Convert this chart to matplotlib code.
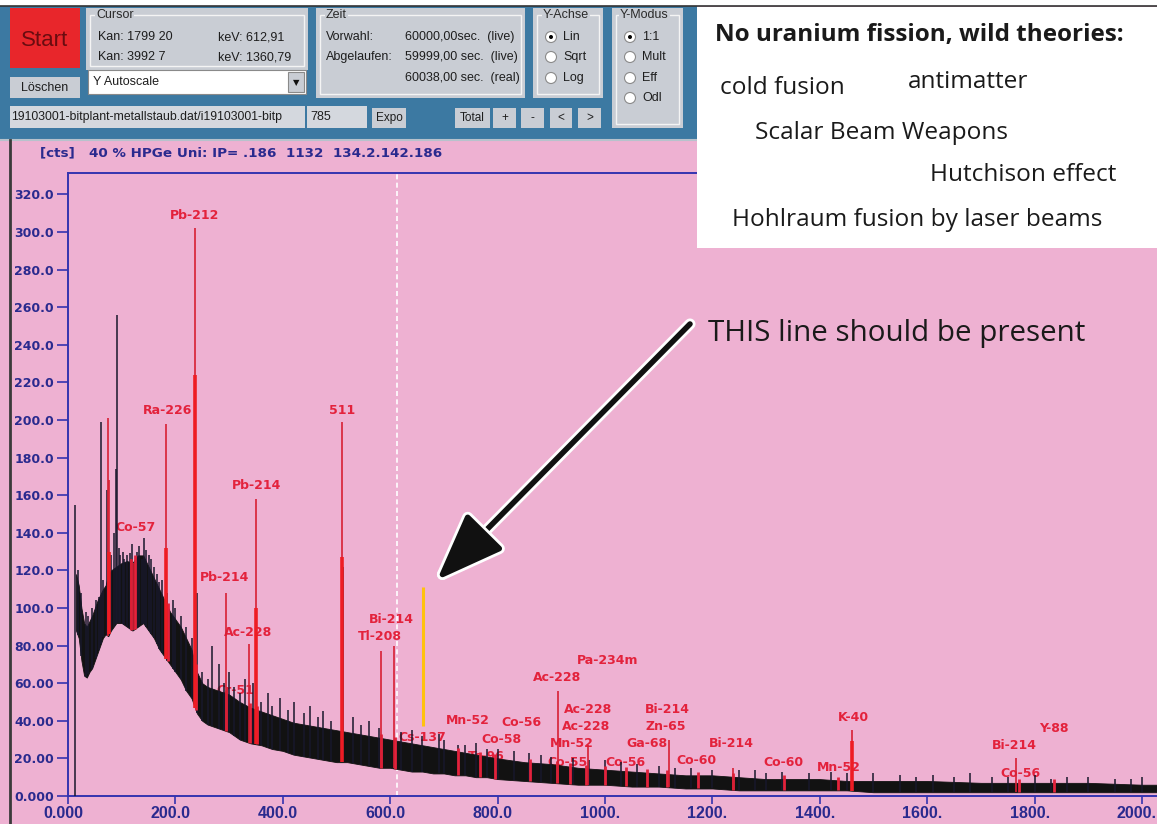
import numpy as np
import matplotlib.pyplot as plt
from matplotlib.patches import Rectangle, Circle
import matplotlib.patheffects as pe
from matplotlib.transforms import ScaledTranslation

# continuum band of the spectrum (keV, counts)
band_e = [15, 20, 25, 30, 35, 40, 45, 50, 55, 60,
          65, 70, 75, 80, 90, 100, 110, 120, 130, 140,
          150, 160, 170, 180, 190, 200, 210, 220, 230, 240,
          250, 260, 270, 280, 290, 300, 320, 340, 360, 380,
          400, 420, 440, 460, 480, 500, 520, 540, 560, 580,
          600, 620, 640, 660, 680, 700, 720, 740, 760, 780,
          800, 850, 900, 950, 1000, 1050, 1100, 1150, 1200, 1250,
          1300, 1350, 1400, 1450, 1500, 1600, 1700, 1800, 1900, 2000,
          2030]
band_lo = [88, 84, 72, 64, 63, 66, 68, 72, 76, 80,
           84, 86, 85, 88, 92, 92, 90, 88, 90, 92,
           88, 84, 78, 74, 70, 66, 62, 56, 52, 44,
           40, 38, 37, 36, 35, 34, 30, 28, 27, 25,
           24, 22, 21, 20, 19, 18, 18, 17, 16, 15,
           15, 14, 13, 13, 12, 12, 11, 11, 10, 10,
           9, 8, 7, 6, 6, 5, 5, 4, 4, 3,
           3, 3, 3, 3, 2, 2, 2, 2, 2, 2,
           2]
band_hi = [118, 112, 100, 92, 90, 93, 96, 100, 104, 107,
           110, 112, 118, 120, 122, 124, 125, 124, 128, 128,
           122, 116, 110, 104, 98, 94, 90, 84, 78, 66,
           60, 58, 57, 56, 55, 54, 50, 47, 45, 43,
           41, 39, 38, 37, 36, 35, 34, 33, 32, 31,
           30, 29, 28, 27, 26, 25, 24, 23, 22, 21,
           20, 18, 17, 15, 14, 13, 12, 11, 11, 10,
           9, 9, 9, 8, 8, 8, 7, 7, 7, 6,
           6]

# black noise spikes sticking out of the band (keV, top counts)
spike_e = [18, 24, 33, 38, 44, 52, 57, 61, 66, 72, 80, 85, 89, 91, 95, 97, 102, 105,
           110, 115, 120, 128, 133, 137, 141, 145, 150, 155, 160, 165, 170, 175, 185,
           196, 200, 210, 220, 230, 240, 250, 260, 269, 282, 290, 300, 310, 320, 330,
           345, 360, 372, 380, 395, 410, 420, 440, 450, 465, 475, 490, 513, 530, 545,
           560, 580, 620, 640, 660, 690, 700, 727, 740, 760, 780, 800, 830, 859, 880,
           900, 940, 970, 1000, 1030, 1060, 1100, 1130, 1160, 1200, 1250, 1280, 1300,
           1330, 1380, 1420, 1450, 1500, 1550, 1580, 1610, 1650, 1680, 1720, 1750,
           1800, 1830, 1860, 1900, 1950, 1980, 2000]
spike_top = [120, 108, 98, 96, 100, 104, 106, 199, 115, 163, 128, 140, 174, 256, 132, 128,
             130, 126, 128, 129, 134, 130, 133, 126, 137, 131, 128, 126, 122, 118, 114,
             115, 108, 104, 100, 96, 90, 84, 108, 66, 62, 80, 70, 60, 66, 58, 55, 62,
             60, 50, 55, 48, 52, 46, 50, 44, 48, 42, 45, 40, 122, 42, 38,
             40, 36, 34, 35, 32, 33, 30, 27, 27, 28, 25, 25, 24, 23, 22,
             21, 20, 19, 19, 18, 17, 16, 15, 15, 14, 14, 14, 12,
             13, 12, 13, 12, 12, 11, 10, 11, 10, 12, 10, 10,
             11, 9, 10, 10, 9, 9, 10]

# identified peaks drawn in red (keV, top counts, thick part)
peak_e = [75, 77, 118, 122, 182.5, 236.5, 294, 337, 350, 510, 582, 607,
          912, 968, 1119, 1238, 1460, 1765]
peak_top = [201, 168, 126, 124, 198, 302, 108, 81, 158, 199, 77, 80,
            56, 27, 30, 15, 35, 20]
peak_core = [0, 130, 0, 0, 132, 224, 0, 0, 100, 127, 0, 0,
             0, 0, 0, 0, 29, 0]

# small red regions inside the band
roi_e = [118, 125, 186, 238, 295, 338, 352, 583, 609, 727, 768, 795, 860,
         911, 935, 965, 1000, 1039, 1078, 1115, 1173, 1238, 1333, 1434, 1771, 1836]

label_text = ['Pb-212', 'Ra-226', '511', 'Pb-214', 'Co-57', 'Pb-214', 'Ac-228', 'Cr-51',
              'Bi-214', 'Tl-208', 'Cs-137', 'Mn-52', 'Co-56', 'Co-58', 'Tc-96',
              'Ac-228', 'Pa-234m', 'Ac-228', 'Ac-228', 'Mn-52', 'Co-55',
              'Bi-214', 'Zn-65', 'Ga-68', 'Co-56', 'Co-60', 'Bi-214', 'Co-60',
              'K-40', 'Mn-52', 'Bi-214', 'Y-88', 'Co-56']
label_e = [236, 186, 510, 352, 125, 292, 335, 311,
           603, 581, 659, 745, 845, 808, 778,
           911, 1004, 968, 965, 939, 931,
           1117, 1114, 1078, 1039, 1171, 1235, 1333,
           1462, 1436, 1762, 1836, 1773]
label_y = [309, 205, 205, 165, 143, 116, 87, 56,
           94, 85, 31, 40, 39, 30, 21,
           63, 72, 46, 37, 28, 18,
           46, 37, 28, 18, 19, 28, 18,
           42, 15, 27, 36, 12]

x_ticks = [0, 200, 400, 600, 800, 1000, 1200, 1400, 1600, 1800, 2000]
x_tick_labels = ['0.000', '200.0', '400.0', '600.0', '800.0', '1000.', '1200.',
                 '1400.', '1600.', '1800.', '2000.']
y_ticks = [0, 20, 40, 60, 80, 100, 120, 140, 160, 180, 200, 220, 240, 260, 280, 300, 320]
y_tick_labels = ['0.000', '20.00', '40.00', '60.00', '80.00', '100.0', '120.0', '140.0',
                 '160.0', '180.0', '200.0', '220.0', '240.0', '260.0', '280.0', '300.0',
                 '320.0']

cursor_kev = 612.91
missing_e = 662
missing_lo, missing_hi = 37, 111

theories = ['cold fusion', 'antimatter', 'Scalar Beam Weapons', 'Hutchison effect',
            'Hohlraum fusion by laser beams']

PINK = '#eeb1d2'
BLUE_TXT = '#2a2a8e'
RED = '#e3223c'
UIF = ['Liberation Sans', 'DejaVu Sans']

W, H = 1157, 824
fig = plt.figure(figsize=(W / 100, H / 100), dpi=100)
fig.patch.set_facecolor(PINK)

# ---- spectrum axes
ax = fig.add_axes([68 / W, (H - 796) / H, (W - 68) / W, (796 - 173) / H])
ax.set_facecolor('none')
ax.set_xlim(0, 2028)
ax.set_ylim(0, 331.4)
for s in ['left', 'top', 'bottom']:
    ax.spines[s].set_color('#3434b0')
    ax.spines[s].set_linewidth(1.4)
ax.spines['right'].set_visible(False)

ax.set_xticks(x_ticks)
ax.set_xticklabels(x_tick_labels, family=UIF, fontsize=11.5, fontweight='bold', color=BLUE_TXT)
ax.set_yticks(y_ticks)
ax.set_yticklabels(y_tick_labels, fontsize=9, fontweight='bold', color=BLUE_TXT)
ax.tick_params(axis='y', length=8, width=1.2, color='#3434b0', pad=2)
ax.tick_params(axis='x', length=6, width=1.2, color='#3434b0', pad=1)
shift = ScaledTranslation(-5 / 100, 0, fig.dpi_scale_trans)
for lab in ax.get_xticklabels():
    lab.set_transform(lab.get_transform() + shift)

ax.axvline(cursor_kev, color='white', ls=(0, (3, 2)), lw=1.2, zorder=1)

# peak labels sit under the spectrum
for t, e, yv in zip(label_text, label_e, label_y):
    ax.text(e, yv, t, color=RED, fontsize=9, fontweight='bold', ha='center', va='center', zorder=2)

ax.fill_between(band_e, band_lo, band_hi, color='#121212', lw=0.6, zorder=3)
lo_s = np.interp(spike_e, band_e, band_lo)
ax.vlines(spike_e, lo_s, spike_top, color='#18182c', lw=1.1, zorder=3)
ax.vlines([13], [0], [155], color='#18182c', lw=1.1, zorder=3)

lo_r = np.interp(roi_e, band_e, band_lo)
hi_r = np.interp(roi_e, band_e, band_hi)
ax.vlines(roi_e, lo_r, hi_r + 2, color=RED, lw=2, zorder=4)

lo_p = np.interp(peak_e, band_e, band_lo)
ax.vlines(peak_e, lo_p, peak_top, color='#d81f34', lw=1.2, zorder=4)
core = np.array(peak_core)
m = core > 0
ax.vlines(np.array(peak_e)[m], lo_p[m], core[m], color='#ee1c24', lw=2.6, zorder=4)

ax.vlines([missing_e], [missing_lo], [missing_hi], color='#ffc20e', lw=2.2, zorder=5)

# ---- overlay in pixel units for the program window and the annotations
ui = fig.add_axes([0, 0, 1, 1])
ui.set_xlim(0, W)
ui.set_ylim(H, 0)
ui.axis('off')
ui.patch.set_alpha(0)


def box(x0, y0, x1, y1, fc, ec='none', lw=0.8, z=1):
    r = Rectangle((x0, y0), x1 - x0, y1 - y0, fc=fc, ec=ec, lw=lw, zorder=z)
    ui.add_patch(r)
    return r


def txt(x, y, s, size=9, ha='left', color='#1e1e1e', **kw):
    return ui.text(x, y, s, fontsize=size, ha=ha, va='center', color=color, family=UIF,
                   zorder=5, **kw)


box(0, 0, W, 6, 'white')
box(0, 6, 697, 140, '#3c79a2')
ui.plot([0, W], [6, 6], color='#333333', lw=1.2, zorder=2)
ui.plot([0, 697], [139.5, 139.5], color='#b7c2cc', lw=1.5, zorder=2)
ui.plot([10, 10], [140, H], color='#3a3a3a', lw=2, zorder=2)

GRAY = '#c9cdd4'
box(10, 8, 80, 68, '#e8262b')
ui.text(45, 40, 'Start', fontsize=16, ha='center', va='center', color='#6a0c10', family=UIF, zorder=5)
box(10, 77, 80, 98, GRAY)
txt(45, 88, 'Löschen', ha='center')


def group(x0, y0, x1, y1, title, tx):
    box(x0, y0, x1, y1, GRAY)
    ui.add_patch(Rectangle((x0 + 4, y0 + 7), x1 - x0 - 8, y1 - y0 - 11, fc='none',
                           ec='#f4f4f4', lw=1, zorder=2))
    ui.text(tx, y0 + 7, title, fontsize=9, ha='left', va='center', color='#2a2a2a',
            family=UIF, zorder=5, bbox=dict(fc=GRAY, ec='none', pad=0.5))


group(86, 8, 308, 70, 'Cursor', 96)
txt(98, 37, 'Kan: 1799 20')
txt(218, 37, 'keV: 612,91')
txt(98, 57, 'Kan: 3992 7')
txt(218, 57, 'keV: 1360,79')
box(88, 70, 306, 94, 'white', ec='#8a8a8a')
txt(93, 82, 'Y Autoscale')
box(288, 72, 304, 92, GRAY, ec='#8a8a8a')
ui.text(296, 83, '▼', fontsize=6, ha='center', va='center', color='#111111', zorder=5)

group(316, 8, 525, 98, 'Zeit', 326)
txt(326, 37, 'Vorwahl:')
txt(405, 37, '60000,00sec.  (live)')
txt(326, 57, 'Abgelaufen:')
txt(405, 57, '59999,00 sec.  (live)')
txt(405, 78, '60038,00 sec.  (real)')


def radios(x, ys, names, sel):
    for i, (yy, nm) in enumerate(zip(ys, names)):
        ui.add_patch(Circle((x, yy), 5.5, fc='white', ec='#8a8a8a', lw=0.8, zorder=3))
        if i == sel:
            ui.add_patch(Circle((x, yy), 2, fc='black', zorder=4))
        txt(x + 12, yy, nm)


group(533, 8, 603, 98, 'Y-Achse', 543)
radios(551, [37, 57, 78], ['Lin', 'Sqrt', 'Log'], 0)
group(612, 8, 683, 128, 'Y-Modus', 620)
radios(630, [37, 57, 78, 98], ['1:1', 'Mult', 'Eff', 'Odl'], 0)

fbox = box(10, 106, 305, 128, '#d4d8de')
ftxt = txt(11, 117, '19103001-bitplant-metallstaub.dat/i19103001-bitp', size=8.8)
ftxt.set_clip_path(fbox)
box(307, 106, 367, 128, '#d4d8de')
txt(310, 117, '785')
for x0, x1, s in [(372, 406, 'Expo'), (455, 490, 'Total'), (493, 516, '+'),
                  (521, 544, '-'), (550, 572, '<'), (578, 601, '>')]:
    box(x0, 108, x1, 128, GRAY)
    txt((x0 + x1) / 2, 118, s, ha='center', size=8.5)

ui.text(40, 153, '[cts]   40 % HPGe Uni: IP= .186  1132  134.2.142.186', fontsize=9.7,
        fontweight='bold', color=BLUE_TXT, ha='left', va='center', zorder=5)

# annotation box
box(697, 7, W, 248, 'white', z=6)
ANN = ['Open Sans', 'DejaVu Sans']
ui.text(715, 35, 'No uranium fission, wild theories:', fontsize=17.5, fontweight='bold',
        family=ANN, ha='left', va='center', color='#1a1a1a', zorder=7)
for (x, y), s in zip([(720, 88), (908, 82), (755, 133), (930, 175), (732, 220)], theories):
    ui.text(x, y, s, fontsize=17.6, family=ANN, ha='left', va='center', color='#1a1a1a', zorder=7)

ui.text(708, 333, 'THIS line should be present', fontsize=21.3, family=ANN,
        ha='left', va='center', color='#1a1a1a', zorder=7)
arr = ui.annotate('', xy=(437, 580), xytext=(690, 324), zorder=7,
                  arrowprops=dict(arrowstyle='-|>,head_length=2.1,head_width=0.8',
                                  lw=4, color='#111111', mutation_scale=20,
                                  shrinkA=0, shrinkB=0))
arr.arrow_patch.set_path_effects([pe.withStroke(linewidth=8, foreground='white')])

fig.savefig('out.png', dpi=100, facecolor=fig.get_facecolor())
